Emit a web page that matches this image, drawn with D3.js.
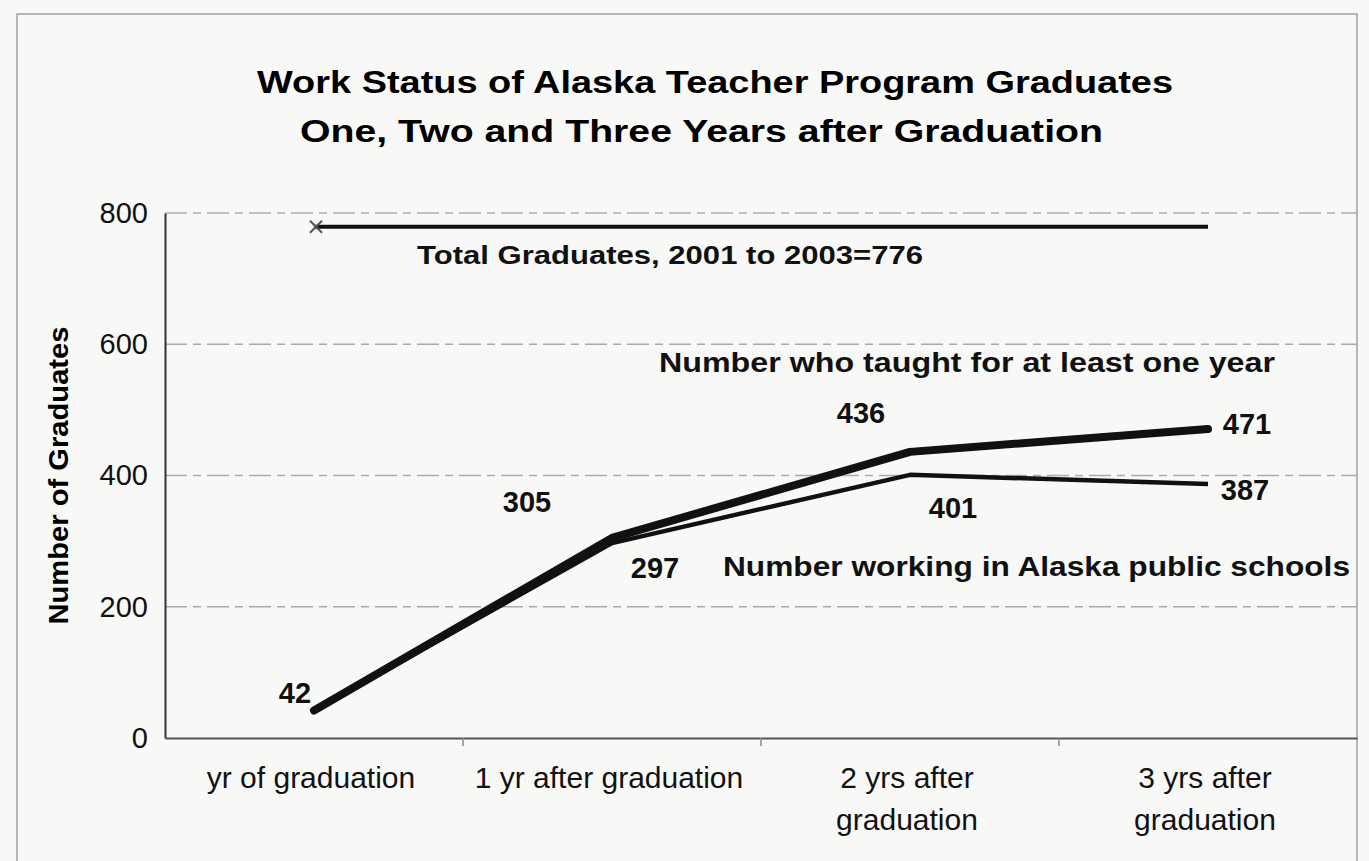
<!DOCTYPE html>
<html lang="en">
<head>
<meta charset="UTF-8">
<title>Work Status of Alaska Teacher Program Graduates</title>
<style>
  body { margin: 0; background: #f8f8f7; }
  svg { display: block; font-family: "Liberation Sans", Arial, sans-serif; }
</style>
</head>
<body>
<script src="https://d3js.org/d3.v7.min.js"></script>
<script>
const categories = ['yr of graduation', '1 yr after graduation', '2 yrs after graduation', '3 yrs after graduation'];
const categoryLines = [['yr of graduation'], ['1 yr after graduation'], ['2 yrs after', 'graduation'], ['3 yrs after', 'graduation']];
const taught = [42, 305, 436, 471];
const working = [42, 297, 401, 387];
const totalGraduates = 776;
const yTicks = [0, 200, 400, 600, 800];

const width = 1369, height = 861;
const margin = {left: 165, right: 12, top: 213, bottom: 123};

const svg = d3.select('body').append('svg')
    .attr('width', width).attr('height', height);

// outer frame
svg.append('rect')
    .attr('x', 17).attr('y', 14).attr('width', 1340).attr('height', 860)
    .attr('fill', 'none').attr('stroke', '#a0a0a0').attr('stroke-width', 1.5);

// title (scan is slightly stretched horizontally, so fix widths)
svg.append('text').attr('x', 257).attr('y', 93)
    .attr('font-size', 32).attr('font-weight', 'bold')
    .attr('textLength', 916).attr('lengthAdjust', 'spacingAndGlyphs')
    .text('Work Status of Alaska Teacher Program Graduates');
svg.append('text').attr('x', 300).attr('y', 142)
    .attr('font-size', 32).attr('font-weight', 'bold')
    .attr('textLength', 803).attr('lengthAdjust', 'spacingAndGlyphs')
    .text('One, Two and Three Years after Graduation');

const x = d3.scaleBand().domain(categories)
    .range([margin.left, width - margin.right]);
const y = d3.scaleLinear().domain([0, 800])
    .range([height - margin.bottom, margin.top]);
const cx = (i) => x(categories[i]) + x.bandwidth() / 2;

// gridlines
svg.append('g').selectAll('line')
    .data(yTicks.filter(d => d > 0)).enter()
    .append('line')
    .attr('x1', margin.left).attr('x2', width - margin.right)
    .attr('y1', d => y(d)).attr('y2', d => y(d))
    .attr('stroke', '#aaa').attr('stroke-width', 1.5)
    .attr('stroke-dasharray', '22,6,8,6');

// y axis
const yAxis = svg.append('g')
    .attr('transform', `translate(${margin.left},0)`)
    .call(d3.axisLeft(y).tickValues(yTicks).tickSize(0).tickPadding(17));
yAxis.select('.domain').attr('stroke', '#333').attr('stroke-width', 2);
yAxis.selectAll('text').attr('font-size', 29).attr('fill', '#111')
    .attr('font-family', '"Liberation Sans", Arial, sans-serif');

// x axis
const xAxis = svg.append('g')
    .attr('transform', `translate(0,${height - margin.bottom})`)
    .call(d3.axisBottom(x).tickSize(0).tickFormat(''));
xAxis.select('.domain').attr('stroke', '#555').attr('stroke-width', 2);
svg.append('g').selectAll('line')
    .data(categories.slice(1)).enter()
    .append('line')
    .attr('x1', d => x(d)).attr('x2', d => x(d))
    .attr('y1', height - margin.bottom).attr('y2', height - margin.bottom + 8)
    .attr('stroke', '#888').attr('stroke-width', 1.5);

svg.append('g').selectAll('text')
    .data(categoryLines).enter()
    .append('text')
    .attr('text-anchor', 'middle')
    .attr('font-size', 30).attr('fill', '#111')
    .attr('transform', (d, i) => `translate(${cx(i) - 3},${height - margin.bottom + 50})`)
    .selectAll('tspan').data(d => d).enter()
    .append('tspan').attr('x', 0).attr('dy', (d, j) => j === 0 ? 0 : 42)
    .text(d => d);

// y axis title
svg.append('text')
    .attr('transform', `translate(68,${y(400)}) rotate(-90)`)
    .attr('text-anchor', 'middle').attr('font-size', 28).attr('font-weight', 'bold')
    .attr('textLength', 298).attr('lengthAdjust', 'spacingAndGlyphs')
    .text('Number of Graduates');

// total graduates line
svg.append('line')
    .attr('x1', cx(0)).attr('x2', cx(3))
    .attr('y1', y(totalGraduates) - 2).attr('y2', y(totalGraduates) - 2)
    .attr('stroke', '#111').attr('stroke-width', 4);
const mk = [cx(0) + 2, y(totalGraduates) - 2];
svg.append('path')
    .attr('d', `M${mk[0] - 6},${mk[1] - 6}L${mk[0] + 6},${mk[1] + 6}M${mk[0] - 6},${mk[1] + 6}L${mk[0] + 6},${mk[1] - 6}`)
    .attr('stroke', '#555').attr('stroke-width', 2);

// series lines
const line = d3.line().x((d, i) => cx(i)).y(d => y(d));
svg.append('path').datum(working)
    .attr('d', line).attr('fill', 'none')
    .attr('stroke', '#111').attr('stroke-width', 4.5).attr('stroke-linejoin', 'round');
svg.append('path').datum(taught)
    .attr('d', line).attr('fill', 'none')
    .attr('stroke', '#111').attr('stroke-width', 8).attr('stroke-linejoin', 'round')
    .attr('stroke-linecap', 'round');

// value labels
const labelStyle = sel => sel.attr('font-size', 29).attr('font-weight', 'bold').attr('fill', '#111');
const taughtOffsets = [[-19, -7], [-85, -26], [-49, -29], [39, 5]];
const workingOffsets = [null, [43, 35], [43, 43], [37, 16]];
svg.append('g').selectAll('text').data(taught).enter()
    .append('text').call(labelStyle)
    .attr('text-anchor', 'middle')
    .attr('x', (d, i) => cx(i) + taughtOffsets[i][0])
    .attr('y', (d, i) => y(d) + taughtOffsets[i][1])
    .text(d => d);
svg.append('g').selectAll('text').data(working.slice(1)).enter()
    .append('text').call(labelStyle)
    .attr('text-anchor', 'middle')
    .attr('x', (d, i) => cx(i + 1) + workingOffsets[i + 1][0])
    .attr('y', (d, i) => y(d) + workingOffsets[i + 1][1])
    .text(d => d);

// annotations
const noteStyle = sel => sel.attr('font-size', 27).attr('font-weight', 'bold').attr('fill', '#111')
    .attr('lengthAdjust', 'spacingAndGlyphs');
svg.append('text').call(noteStyle).attr('font-size', 26)
    .attr('x', 417).attr('y', 264).attr('textLength', 506)
    .text('Total Graduates, 2001 to 2003=' + totalGraduates);
svg.append('text').call(noteStyle)
    .attr('x', 659).attr('y', 372).attr('textLength', 616)
    .text('Number who taught for at least one year');
svg.append('text').call(noteStyle)
    .attr('x', 723).attr('y', 576).attr('textLength', 627)
    .text('Number working in Alaska public schools');
</script>
</body>
</html>
